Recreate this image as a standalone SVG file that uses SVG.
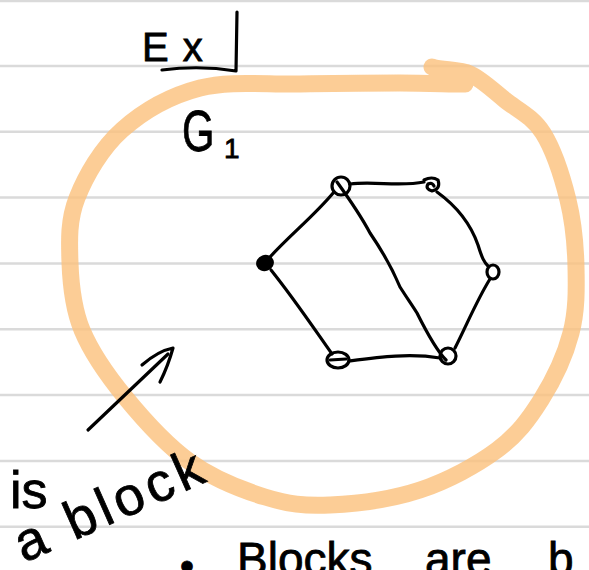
<svg xmlns="http://www.w3.org/2000/svg" width="589" height="570" viewBox="0 0 589 570">
  <style>
    .rule { stroke: #dadada; stroke-width: 2.5; }
    .ink { fill: none; stroke: #000; stroke-width: 3.2; stroke-linecap: round; stroke-linejoin: round; }
    .hand { font-family: "Liberation Sans", "DejaVu Sans", sans-serif; fill: #000; stroke: #000; stroke-width: 0.8; }
    .hl { fill: none; stroke: #fbc07c; stroke-opacity: 0.8; stroke-width: 17; stroke-linecap: round; stroke-linejoin: round; }
  </style>
  <rect width="589" height="570" fill="#ffffff"/>
  <g id="paper-rules">
    <line class="rule" x1="0" y1="1" x2="589" y2="1"/>
    <line class="rule" x1="0" y1="66" x2="589" y2="66"/>
    <line class="rule" x1="0" y1="131.7" x2="589" y2="131.7"/>
    <line class="rule" x1="0" y1="197.6" x2="589" y2="197.6"/>
    <line class="rule" x1="0" y1="263.4" x2="589" y2="263.4"/>
    <line class="rule" x1="0" y1="329.3" x2="589" y2="329.3"/>
    <line class="rule" x1="0" y1="395.1" x2="589" y2="395.1"/>
    <line class="rule" x1="0" y1="461" x2="589" y2="461"/>
    <line class="rule" x1="0" y1="526.8" x2="589" y2="526.8"/>
  </g>
  <g id="highlight-loop">
    <path class="hl" d="M432,67 C442.5,70.7 458.7,69 470,74 C481.3,79 492.8,90.2 505,100 C517.2,109.8 532.5,116.3 543,133 C553.5,149.7 562.5,177.7 568,200 C573.5,222.3 575.5,244.8 576,267 C576.5,289.2 576.8,310.8 571,333 C565.2,355.2 553.3,380.5 541,400 C528.7,419.5 517.2,435 497,450 C476.8,465 447.8,480.8 420,490 C392.2,499.2 355.8,503.8 330,505 C304.2,506.2 288.3,504.2 265,497 C241.7,489.8 213.3,478.7 190,462 C166.7,445.3 143,419 125,397 C107,375 91.2,352.3 82,330 C72.8,307.7 70.8,285 70,263 C69.2,241 68.3,220.2 77,198 C85.7,175.8 101.5,148.3 122,130 C142.5,111.7 170.3,95.7 200,88 C229.7,80.3 266.7,84.8 300,84 C333.3,83.2 372.5,83 400,83 C427.5,83 454.2,84.2 465,84"/>
  </g>
  <g id="title">
    <text class="hand" x="142" y="61" font-size="40" letter-spacing="14">Ex</text>
    <path class="ink" d="M162,70 Q200,65 236,71 L237,12"/>
  </g>
  <g id="graph-label">
    <text class="hand" transform="translate(182,151) scale(0.72,1)" font-size="58">G</text>
    <text class="hand" x="224" y="158" font-size="28">1</text>
  </g>
  <g id="connectors">
    <path class="ink" d="M350,184 C375,181 400,187 424,182"/>
    <path class="ink" d="M437,192 C455,205 470,222 478,245 C482,258 484,262 488,266"/>
    <path class="ink" d="M490,279 C478,298 468,322 455,348"/>
    <path class="ink" d="M440,358 C410,353 380,357 349,361"/>
    <path class="ink" d="M332,354 C315,330 295,300 271,270"/>
    <path class="ink" d="M270,257 C290,235 315,215 334,192"/>
    <path class="ink" d="M337,182 C350,200 362,218 370,233 C385,255 395,275 400,287 C407,298 412,305 417,313 C428,335 438,352 446,360"/>
    <path class="ink" d="M88,430 L168,354"/>
    <path class="ink" d="M142,365 Q158,351 173,348 Q168,366 160,382"/>
  </g>
  <g id="node-a">
    <circle class="ink" cx="341" cy="186" r="9"/>
  </g>
  <g id="node-b">
    <path class="ink" d="M424,180 Q432,176 438,180 Q441,189 432,191 Q425,189 428,184 Q432,182 434,186"/>
  </g>
  <g id="node-c">
    <ellipse class="ink" cx="493" cy="272" rx="6" ry="7"/>
  </g>
  <g id="node-d">
    <circle class="ink" cx="448" cy="356" r="8"/>
  </g>
  <g id="node-e">
    <ellipse class="ink" cx="338" cy="360" rx="11" ry="8"/>
    <path class="ink" d="M330,360 L346,359"/>
  </g>
  <g id="node-f">
    <ellipse cx="265" cy="263" rx="9" ry="8" fill="#000" transform="rotate(-20 265 263)"/>
  </g>
  <g id="annotation">
    <text class="hand" x="10" y="508" font-size="52">is</text>
    <text class="hand" transform="translate(24,563) rotate(-24)" font-size="54" letter-spacing="5">a block</text>
  </g>
  <g id="bottom-note">
    <text class="hand" y="575" font-size="46"><tspan x="180" y="580" font-size="40">•</tspan><tspan x="237" y="575">Blocks</tspan><tspan x="425">are</tspan><tspan x="548">b</tspan></text>
  </g>
</svg>
